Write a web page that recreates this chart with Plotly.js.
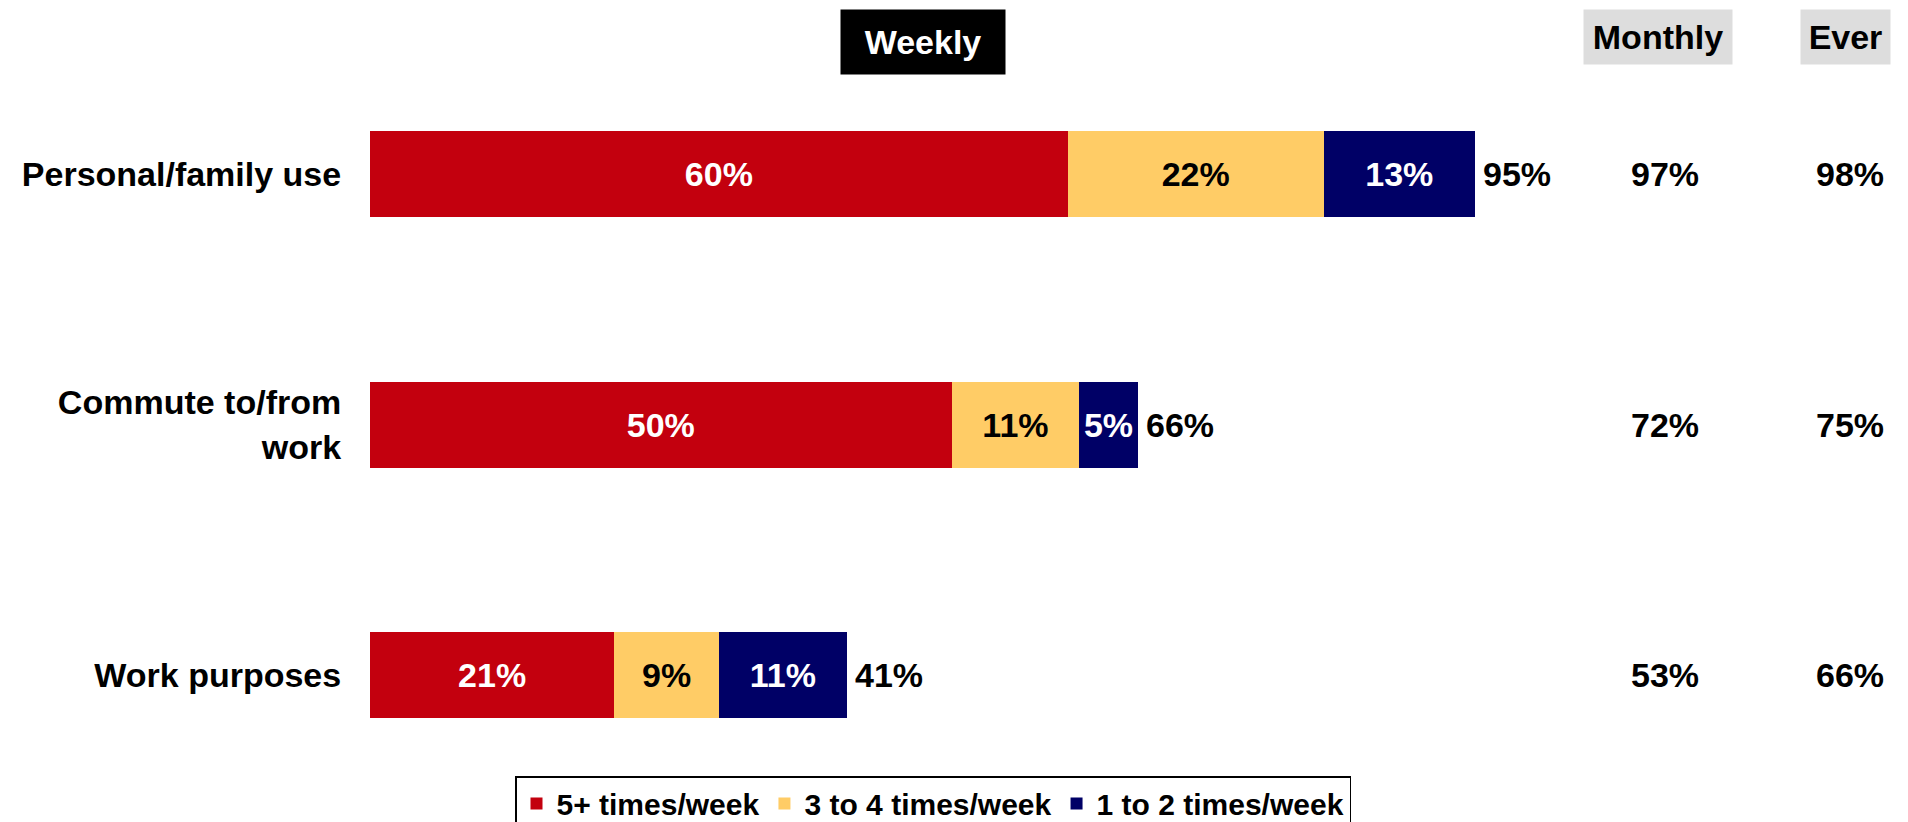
<!DOCTYPE html>
<html>
<head>
<meta charset="utf-8">
<script src="https://cdn.plot.ly/plotly-3.0.1.min.js"></script>
<style>html,body{margin:0;padding:0;background:#fff;}#chart{width:1908px;height:822px;}</style>
</head>
<body>
<div id="chart"></div>
<script>
var categories = ["Personal/family use", "Commute to/from<br>work", "Work purposes"];
var seriesNames = ["5+ times/week", "3 to 4 times/week", "1 to 2 times/week"];
var fivePlus = [60, 50, 21];
var threeToFour = [22, 11, 9];
var oneToTwo = [13, 5, 11];
var weeklyTotal = [95, 66, 41];
var monthly = [97, 72, 53];
var ever = [98, 75, 66];
var colors = ["#C3000E", "#FFCC66", "#000066"];
var textColors = ["#FFFFFF", "#000000", "#FFFFFF"];

var FONT = "Liberation Sans, Arial, sans-serif";
var W = 1908, H = 822;
var seriesValues = [fivePlus, threeToFour, oneToTwo];

var traces = seriesValues.map(function (vals, i) {
  return {
    type: "bar",
    orientation: "h",
    name: seriesNames[i],
    y: categories,
    x: vals,
    text: vals.map(function (v) { return v + "%"; }),
    textposition: "inside",
    insidetextanchor: "middle",
    textangle: 0,
    constraintext: "none",
    textfont: { family: FONT, size: 34, color: textColors[i], weight: "bold" },
    marker: { color: colors[i], line: { width: 0 } },
    width: 0.343,
    hoverinfo: "skip"
  };
});

var annotations = [];
categories.forEach(function (c, i) {
  annotations.push({
    x: weeklyTotal[i], y: c, xref: "x", yref: "y",
    text: "<b>" + weeklyTotal[i] + "%</b>", showarrow: false,
    xanchor: "left", xshift: 6,
    font: { family: FONT, size: 34, color: "#000" }
  });
  annotations.push({
    x: 1665 / W, y: c, xref: "paper", yref: "y",
    text: "<b>" + monthly[i] + "%</b>", showarrow: false,
    xanchor: "center",
    font: { family: FONT, size: 34, color: "#000" }
  });
  annotations.push({
    x: 1850 / W, y: c, xref: "paper", yref: "y",
    text: "<b>" + ever[i] + "%</b>", showarrow: false,
    xanchor: "center",
    font: { family: FONT, size: 34, color: "#000" }
  });
});

annotations.push({
  x: 923 / W, y: 1 - 42 / H, xref: "paper", yref: "paper",
  text: "<b>Weekly</b>", showarrow: false, xanchor: "center", yanchor: "middle",
  bgcolor: "#000000", borderpad: 10, width: 144, height: 44,
  font: { family: FONT, size: 34, color: "#FFFFFF" }
});
annotations.push({
  x: 1658 / W, y: 1 - 37 / H, xref: "paper", yref: "paper",
  text: "<b>Monthly</b>", showarrow: false, xanchor: "center", yanchor: "middle",
  bgcolor: "#DDDDDD", borderpad: 7, width: 134, height: 40,
  font: { family: FONT, size: 34, color: "#000000" }
});
annotations.push({
  x: 1845.5 / W, y: 1 - 37 / H, xref: "paper", yref: "paper",
  text: "<b>Ever</b>", showarrow: false, xanchor: "center", yanchor: "middle",
  bgcolor: "#DDDDDD", borderpad: 7, width: 75, height: 40,
  font: { family: FONT, size: 34, color: "#000000" }
});

var layout = {
  width: W, height: H,
  margin: { l: 0, r: 0, t: 0, b: 0, pad: 0, autoexpand: false },
  paper_bgcolor: "#FFFFFF",
  plot_bgcolor: "#FFFFFF",
  barmode: "stack",
  showlegend: true,
  font: { family: FONT, color: "#000" },
  xaxis: {
    domain: [370 / W, 1],
    range: [0, (W - 370) / 11.63],
    showgrid: false, zeroline: false, showline: false,
    showticklabels: false, ticks: "", fixedrange: true
  },
  yaxis: {
    type: "category",
    categoryorder: "array",
    categoryarray: categories,
    range: [2.5, -0.5],
    domain: [0.026, 0.9408],
    showgrid: false, zeroline: false, showline: false,
    ticks: "outside", ticklen: 21, tickcolor: "rgba(0,0,0,0)",
    tickfont: { family: FONT, size: 34, color: "#000", weight: "bold" },
    fixedrange: true
  },
  legend: {
    orientation: "h",
    x: 933 / W, xanchor: "center",
    y: 46 / H, yanchor: "top",
    bordercolor: "#000000", borderwidth: 1.5,
    bgcolor: "#FFFFFF",
    font: { family: FONT, size: 30, color: "#000", weight: "bold" },
    traceorder: "normal",
    itemwidth: 30,
    tracegroupgap: 0
  },
  annotations: annotations
};

Plotly.newPlot("chart", traces, layout, { displayModeBar: false, staticPlot: true });
</script>
</body>
</html>
